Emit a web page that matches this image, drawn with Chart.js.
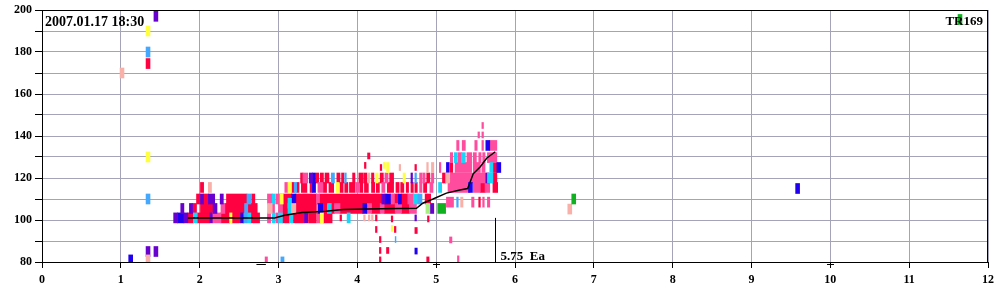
<!DOCTYPE html>
<html>
<head>
<meta charset="utf-8">
<script src="https://cdn.jsdelivr.net/npm/chart.js@4.4.0/dist/chart.umd.min.js"></script>
<style>
  html, body { margin: 0; padding: 0; background: #fff; }
</style>
</head>
<body>
<canvas id="chart" width="1000" height="300"></canvas>
<script>
// ─── DATA ─────────────────────────────────────────────────────
// each mark: [x from, x to, y]
const RED = [
  [1.85,1.92,101],[1.97,2.13,101],[2.27,2.38,101],[2.41,2.52,101],[2.65,2.76,101],
  [3.05,3.14,101],[3.19,3.33,101],[3.38,3.48,101],[3.57,3.68,101],
  [1.91,1.96,105.5],[2.01,2.17,105.5],[2.32,2.57,105.5],[2.61,2.73,105.5],[3.05,3.12,105.5],
  [3.22,3.48,105.5],[3.56,3.62,105.5],[3.67,3.71,105.5],[3.78,4.07,105.5],[4.18,4.29,105.5],
  [4.34,4.48,105.5],[4.56,4.66,105.5],
  [1.96,2.01,110],[2.05,2.11,110],[2.34,2.60,110],[2.66,2.70,110],[3.06,3.165,110],
  [3.22,3.48,110],[3.52,4.31,110],[4.47,4.52,110],[4.56,4.64,110],[4.86,4.93,110],
  [2.01,2.05,115.5],[3.165,3.20,115.5],[3.23,3.26,115.5],[3.29,3.36,115.5],[3.40,3.43,115.5],
  [3.57,3.61,115.5],[3.64,3.70,115.5],[3.78,3.82,115.5],[3.84,3.88,115.5],[3.90,3.97,115.5],
  [4.03,4.07,115.5],[4.09,4.14,115.5],[4.18,4.22,115.5],[4.24,4.28,115.5],[4.38,4.46,115.5],
  [4.49,4.53,115.5],[4.55,4.59,115.5],[4.62,4.65,115.5],[4.68,4.71,115.5],[4.73,4.76,115.5],
  [4.84,4.88,115.5],[5.56,5.62,115.5],[5.72,5.78,115.5],
  [3.28,3.31,120],[3.48,3.51,120],[3.53,3.57,120],[3.59,3.64,120],[3.74,3.78,120],
  [3.80,3.83,120],[3.94,3.97,120],[4.02,4.07,120],[4.08,4.12,120],[4.18,4.21,120],
  [4.29,4.33,120],[4.41,4.46,120],[4.88,4.92,120],[5.08,5.12,120],[5.72,5.77,120],
  [1.32,1.37,174.5],[5.17,5.21,125],[5.72,5.77,125],[5.54,5.56,108.5]
];
const PINK = [
  [2.16,2.27,101],[2.86,2.90,101],[2.97,3.00,101],[3.49,3.53,101],
  [2.27,2.32,105.5],[2.92,2.95,105.5],[3.00,3.05,105.5],[3.71,3.78,105.5],[4.12,4.18,105.5],
  [4.29,4.34,105.5],[4.48,4.56,105.5],[4.66,4.75,105.5],
  [2.86,2.92,110],[2.97,3.05,110],[3.48,3.52,110],[4.42,4.47,110],[4.64,4.71,110],
  [5.13,5.22,108.5],[5.45,5.48,108.5],[5.59,5.61,108.5],[5.65,5.68,108.5],
  [3.08,3.12,115.5],[3.50,3.56,115.5],[3.98,4.02,115.5],[4.31,4.35,115.5],[4.79,4.82,115.5],
  [4.92,4.96,115.5],[5.15,5.43,115.5],[5.47,5.56,115.5],[5.62,5.68,115.5],
  [3.31,3.37,120],[4.35,4.39,120],[4.79,4.82,120],[4.83,4.86,120],[4.94,4.97,120],[5.18,5.64,120],
  [5.04,5.06,125],[5.24,5.45,125],[5.47,5.56,125],[5.58,5.62,125],
  [5.18,5.21,129.7],[5.28,5.32,129.7],[5.39,5.45,129.7],[5.47,5.51,129.7],[5.54,5.57,129.7],
  [5.59,5.62,129.7],[5.65,5.77,129.7],
  [5.26,5.29,135.5],[5.33,5.37,135.5],[5.49,5.52,135.5],[5.58,5.60,135.5],[5.68,5.77,135.5]
];
const BLUE = [
  [1.72,1.80,101],[2.52,2.56,101],[3.165,3.22,110],[3.43,3.47,115.5],[3.43,3.47,120],
  [3.50,3.56,105.5],[4.07,4.12,105.5],[4.35,4.42,110],[4.52,4.56,110],[5.41,5.46,115.5],
  [5.13,5.16,125],[5.77,5.82,125],[5.63,5.68,135.5],[9.56,9.61,115],[1.10,1.15,81]
];
const PURPLE = [
  [1.42,1.47,197],[1.32,1.37,85],[1.42,1.47,85],[1.67,1.72,101],[1.80,1.85,101],
  [2.13,2.16,101],[3.33,3.37,101],[1.76,1.80,105.5],[1.87,1.91,105.5],[2.17,2.22,105.5],
  [2.01,2.05,110],[2.11,2.19,110],[2.26,2.30,110],[3.39,3.43,120],[4.31,4.35,110],
  [4.92,4.97,105.5],[4.68,4.70,120],[5.63,5.67,120]
];
const CYAN = [
  [1.92,1.97,101],[2.60,2.65,101],[2.92,2.96,101],[3.00,3.05,101],[3.14,3.18,101],
  [3.87,3.91,101],[3.12,3.165,105.5],[3.12,3.165,108],[3.62,3.67,105.5],[2.92,2.96,110],
  [4.71,4.77,110],[5.03,5.07,115.5],[5.65,5.72,120],[5.68,5.72,125],[5.23,5.27,129.7],
  [5.32,5.37,129.7]
];
const LIGHT_BLUE = [
  [1.32,1.37,180],[1.32,1.37,110],[2.56,2.60,101],[2.57,2.61,105.5],[2.60,2.65,110],
  [3.20,3.23,115.5],[3.67,3.71,120],[3.84,3.86,120],[4.73,4.75,120],[4.77,4.82,110],
  [5.26,5.28,108.5]
];
const YELLOW = [
  [1.32,1.37,190],[1.32,1.37,130],[2.38,2.41,101],[3.53,3.57,101],[3.02,3.06,110],
  [3.12,3.165,115.5],[3.73,3.77,115.5],[4.23,4.265,120],[4.58,4.61,120],[4.37,4.40,125]
];
const SALMON = [
  [0.99,1.04,170],[1.32,1.37,81],[2.86,2.92,105.5],[2.11,2.15,115.5],[3.165,3.22,105.5],
  [4.13,4.16,120],[4.88,4.90,125],[4.94,4.97,125],[5.12,5.17,120],[5.31,5.34,108.5],
  [6.67,6.72,105.2]
];
const GREEN = [[6.72,6.77,110],[5.02,5.12,105.5],[11.62,11.67,195.5]];
const LIGHT_GREEN = [[4.87,4.92,105.5]];

// thin marks
const RED_THIN = [
  [4.13,4.16,130.5],[4.09,4.11,126],[4.29,4.31,125],[4.73,4.75,125],[4.23,4.25,95.5],
  [4.47,4.49,95.5],[4.73,4.76,95],[4.28,4.30,90.7],[4.28,4.30,85.5],[4.37,4.40,85.5],
  [4.28,4.30,81],[4.88,4.91,81],[4.43,4.45,100.5],[4.89,4.91,100.5],[3.78,3.80,101],
  [4.23,4.25,101]
];
const PINK_THIN = [[5.17,5.20,90.5],[5.27,5.29,81.5],[2.83,2.86,81],[5.58,5.60,145],[5.53,5.55,140.5],[5.58,5.60,140.5]];
const SALMON_THIN = [[4.08,4.10,101],[4.14,4.16,101],[4.18,4.20,101],[4.53,4.55,125]];
const YELLOW_THIN = [[4.43,4.45,96],[4.33,4.35,126]];
const BLUE_THIN = [[4.73,4.76,85.2]];
const LIGHT_BLUE_THIN = [[4.48,4.49,90.7],[3.03,3.07,81]];
const PURPLE_THIN = [[4.73,4.75,101]];

// the black trace
const LINE_X = [1.85, 2.95, 3.08, 3.3, 3.6, 3.82, 4.3, 4.75, 4.83, 4.96, 5.13, 5.3, 5.4, 5.47, 5.56, 5.64, 5.75];
const LINE_Y = [101, 101, 102.3, 103.6, 104.2, 105, 105.4, 105.6, 108, 110, 112.8, 114.3, 115, 122, 125.4, 129.4, 132.5];

const Y_LABELED = [80, 100, 120, 140, 160, 180, 200];
const MARK_X = 5.75;
const STAMP = '2007.01.17 18:30';
const STATION = 'TR169';

// ─── STYLE ────────────────────────────────────────────────────
const SERIF = '"Liberation Serif", "Times New Roman", serif';

const MARKS = [
  { data: PURPLE_THIN,     color: '#6800D0', h: 6 },
  { data: BLUE_THIN,       color: '#2000F0', h: 6 },
  { data: LIGHT_BLUE_THIN, color: '#44A8FF', h: 6 },
  { data: YELLOW_THIN,     color: '#FFFF40', h: 6 },
  { data: SALMON_THIN,     color: '#F8B0A8', h: 6 },
  { data: PINK_THIN,       color: '#FF4C9F', h: 6 },
  { data: RED_THIN,        color: '#FF0040', h: 6 },
  { data: GREEN,           color: '#10B020', h: 10 },
  { data: LIGHT_GREEN,     color: '#A8F080', h: 10 },
  { data: YELLOW,          color: '#FFFF40', h: 10 },
  { data: SALMON,          color: '#F8B0A8', h: 10 },
  { data: LIGHT_BLUE,      color: '#44A8FF', h: 10 },
  { data: CYAN,            color: '#19D5F8', h: 10 },
  { data: PURPLE,          color: '#6800D0', h: 10 },
  { data: BLUE,            color: '#2000F0', h: 10 },
  { data: PINK,            color: '#FF4C9F', h: 10 },
  { data: RED,             color: '#FF0040', h: 10 },
];

const datasets = [{
  type: 'line',
  data: LINE_X.map((x, i) => ({ x, y: LINE_Y[i] })),
  borderColor: '#000',
  borderWidth: 1.5,
  pointRadius: 0,
  tension: 0,
  order: 0,
}];
MARKS.forEach((m, i) => {
  datasets.push({
    type: 'bar',
    indexAxis: 'y',
    data: m.data.map(d => ({ x: [d[0], d[1]], y: d[2] })),
    backgroundColor: m.color,
    borderWidth: 0,
    barThickness: m.h,
    grouped: false,
    order: 1 + i,
  });
});

// frame, tick crosses, marker line and texts
const decor = {
  id: 'decor',
  afterDraw(chart) {
    const { ctx, chartArea: a, scales: { x, y } } = chart;
    ctx.save();
    ctx.strokeStyle = '#000';
    ctx.lineWidth = 1;
    ctx.strokeRect(a.left + 0.5, a.top + 0.5, a.right - a.left - 1, a.bottom - a.top);

    ctx.beginPath();
    [5, 10].forEach(v => {
      const px = Math.round(x.getPixelForValue(v));
      ctx.moveTo(px - 3, a.bottom + 2.5);
      ctx.lineTo(px + 4, a.bottom + 2.5);
    });
    ctx.moveTo(x.getPixelForValue(2.72), a.bottom + 2.5);
    ctx.lineTo(x.getPixelForValue(2.84), a.bottom + 2.5);
    const mx = Math.round(x.getPixelForValue(MARK_X)) + 0.5;
    ctx.moveTo(mx, y.getPixelForValue(101));
    ctx.lineTo(mx, a.bottom);
    ctx.stroke();

    ctx.fillStyle = '#000';
    ctx.font = 'bold 14px ' + SERIF;
    ctx.textBaseline = 'alphabetic';
    ctx.textAlign = 'left';
    ctx.fillText(STAMP, a.left + 3, a.top + 16);
    ctx.font = 'bold 13px ' + SERIF;
    ctx.fillText(MARK_X.toFixed(2) + '  Ea', mx + 5, a.bottom - 2);
    ctx.textAlign = 'right';
    ctx.fillText(STATION, a.right - 5, a.top + 15);
    ctx.restore();
  }
};

new Chart(document.getElementById('chart'), {
  data: { datasets },
  options: {
    responsive: false,
    animation: false,
    devicePixelRatio: 1,
    layout: { padding: { top: 10, right: 12, left: 0, bottom: 0 } },
    plugins: { legend: { display: false }, tooltip: { enabled: false } },
    scales: {
      x: {
        type: 'linear',
        min: 0, max: 12,
        offset: false,
        afterFit(s) { s.height = 38; s.paddingLeft = 0; s.paddingRight = 0; },
        ticks: { stepSize: 1, padding: 5, color: '#000', maxRotation: 0,
                 font: { family: SERIF, size: 12, weight: 'bold' } },
        grid: { offset: false, color: '#A4A4B8', tickColor: '#000', tickLength: 6 },
        border: { color: '#000' },
      },
      y: {
        type: 'linear',
        min: 80, max: 200,
        offset: false,
        afterFit(s) { s.width = 42; s.paddingTop = 0; s.paddingBottom = 0; },
        ticks: { stepSize: 10, padding: 3, color: '#000',
                 callback: v => Y_LABELED.includes(v) ? String(v) : '',
                 font: { family: SERIF, size: 12, weight: 'bold' } },
        grid: { offset: false, color: '#A4A4B8', tickColor: '#000', tickLength: 7 },
        border: { color: '#000' },
      },
    },
  },
  plugins: [decor],
});
</script>
</body>
</html>
